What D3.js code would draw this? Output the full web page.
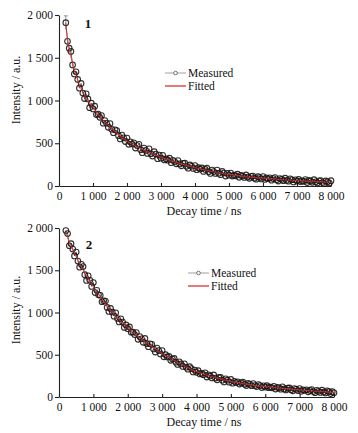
<!DOCTYPE html>
<html>
<head>
<meta charset="utf-8">
<script src="https://cdnjs.cloudflare.com/ajax/libs/d3/7.8.5/d3.min.js"></script>
<style>
  html, body { margin: 0; padding: 0; background: #fff; }
  svg { display: block; font-family: "Liberation Serif", "DejaVu Serif", serif; }
  .axis path, .axis line { stroke: #222; stroke-width: 1.1; }
  .axis text { font-size: 11.5px; fill: #111; font-family: "Liberation Serif", serif; }
</style>
</head>
<body>
<div class="chart"></div>
<script>

// sampling times of the measured curves (ns), shared by both panels
const TIMES = [200, 250, 300, 350, 400, 450, 500, 550, 600, 650, 700, 750, 800, 850, 900, 950,
  1000, 1050, 1100, 1150, 1200, 1250, 1300, 1350, 1400, 1450, 1500, 1550, 1600, 1650, 1700,
  1750, 1800, 1850, 1900, 1950, 2000, 2050, 2100, 2150, 2200, 2250, 2300, 2350, 2400, 2450,
  2500, 2550, 2600, 2650, 2700, 2750, 2800, 2850, 2900, 2950, 3000, 3050, 3100, 3150, 3200,
  3250, 3300, 3350, 3400, 3450, 3500, 3550, 3600, 3650, 3700, 3750, 3800, 3850, 3900, 3950,
  4000, 4050, 4100, 4150, 4200, 4250, 4300, 4350, 4400, 4450, 4500, 4550, 4600, 4650, 4700,
  4750, 4800, 4850, 4900, 4950, 5000, 5050, 5100, 5150, 5200, 5250, 5300, 5350, 5400, 5450,
  5500, 5550, 5600, 5650, 5700, 5750, 5800, 5850, 5900, 5950, 6000, 6050, 6100, 6150, 6200,
  6250, 6300, 6350, 6400, 6450, 6500, 6550, 6600, 6650, 6700, 6750, 6800, 6850, 6900, 6950,
  7000, 7050, 7100, 7150, 7200, 7250, 7300, 7350, 7400, 7450, 7500, 7550, 7600, 7650, 7700,
  7750, 7800, 7850, 7900, 7950, 8000];

// panel 1, measured intensity (a.u.)
const MEASURED_1 = [1910, 1692, 1612, 1574, 1416, 1310, 1336, 1246, 1144, 1200, 1088, 1023,
  1078, 1018, 916, 969, 902, 934, 835, 840,
  803, 824, 734, 766, 734, 686, 730, 664, 623, 657, 648, 589, 550, 596, 563, 520, 561, 487,
  517, 491, 505, 443, 473, 488, 424, 390, 444, 416, 381, 435, 377, 350, 402, 374, 319, 362,
  326, 359, 305, 317,
  302, 325, 272, 301, 286, 259, 298, 258, 236, 266, 267, 230, 208, 247, 231, 206, 240, 190,
  214, 198, 211, 170, 194, 208, 168, 146, 187, 169, 146, 187, 150, 132, 170, 152, 116, 149,
  127, 152, 116, 127,
  119, 138, 102, 125, 117, 100, 130, 104, 90, 114, 116, 92, 79, 109, 99, 83, 110, 76, 95, 85,
  96, 68, 87, 99, 72, 58, 88, 77, 62, 92, 67, 56, 85, 73, 48, 73, 58, 77, 52, 61,
  54, 75, 40, 65, 58, 43, 74, 49, 36, 61, 64, 41, 28, 59, 50, 35, 62];

// panel 2, measured intensity (a.u.)
const MEASURED_2 = [1970, 1934, 1790, 1814, 1751, 1669, 1715, 1609, 1536, 1570, 1544, 1448,
  1380, 1435, 1381, 1309, 1355, 1236, 1262, 1209,
  1204, 1127, 1138, 1136, 1060, 1012, 1048, 1006, 957, 996, 929, 889, 925, 887, 823, 853,
  809, 829, 766, 767, 739, 763, 683, 716, 689, 647, 693, 632, 595, 630, 624, 568, 532, 579,
  550, 509, 549, 475, 501, 474,
  480, 434, 449, 456, 412, 385, 416, 392, 362, 393, 352, 329, 359, 336, 296, 319, 292, 311,
  273, 279, 264, 286, 236, 263, 250, 225, 261, 224, 203, 232, 232, 199, 178, 215, 199, 176,
  208, 163, 186, 171,
  180, 153, 168, 176, 150, 135, 161, 149, 133, 159, 135, 123, 147, 135, 112, 132, 118, 134,
  110, 116, 109, 126, 94, 115, 108, 93, 120, 96, 84, 105, 107, 85, 73, 100, 91, 76, 100, 69,
  86, 77, 86, 61, 78, 88, 64, 51, 79, 68, 54, 81, 58, 48, 74, 63, 41, 63, 50];

// fitted curves, read at fewer times
const FIT_TIMES = [200, 300, 400, 500, 600, 800, 1000, 1250, 1500, 1750, 2000, 2500, 3000,
  3500, 4000, 4500, 5000, 5500, 6000, 6500, 7000, 7500, 8000];
const FITTED_1 = [1880, 1600, 1440, 1300, 1180, 1030, 920, 790, 690, 600, 525, 420, 338,
  270, 215, 170, 135, 110, 92, 76, 64, 54, 44];
const FITTED_2 = [1940, 1840, 1745, 1660, 1580, 1435, 1305, 1160, 1025, 915, 820, 655, 515,
  400, 300, 235, 185, 150, 123, 102, 84, 68, 55];

// error bar on the first measured point of panel 1
const ERR_TIME_1 = [200];
const ERR_HALF_1 = [80];

const X_TICKS = [0, 1000, 2000, 3000, 4000, 5000, 6000, 7000, 8000];
const Y_TICKS = [0, 500, 1000, 1500, 2000];
const SERIES_NAMES = ["Measured", "Fitted"];
const PANEL_NAMES = ["1", "2"];

const WIDTH = 358;
const HEIGHT = 433;
const FIT_COLOR = "#d8322f";
const DOT_COLOR = "#1e1717";

const fmt = d => d >= 1000 ? d3.format(",")(d).replace(",", " ") : String(d);

const svg = d3.select(".chart")
  .append("svg")
  .attr("width", WIDTH)
  .attr("height", HEIGHT);

svg.append("rect").attr("width", WIDTH).attr("height", HEIGHT).attr("fill", "#fff");

// layout of each panel (pixels)
const panels = [
  {
    name: PANEL_NAMES[0], measured: MEASURED_1, fitted: FITTED_1,
    errTimes: ERR_TIME_1, errHalf: ERR_HALF_1,
    x0: 59, x1: 331, yTop: 15, yBot: 186,
    nameXY: [88, 24], legendX: 165, legendY: 73, yTitleY: 90, xTitleX: 204,
  },
  {
    name: PANEL_NAMES[1], measured: MEASURED_2, fitted: FITTED_2,
    errTimes: [], errHalf: [],
    x0: 59, x1: 334, yTop: 228, yBot: 397,
    nameXY: [89, 245], legendX: 188, legendY: 273, yTitleY: 310, xTitleX: 204,
  },
];

panels.forEach(drawPanel);

function drawPanel(p) {
  const g = svg.append("g");

  const xScale = d3.scaleLinear().domain([0, 8000]).range([p.x0, p.x1]);
  const yScale = d3.scaleLinear().domain([0, 2000]).range([p.yBot, p.yTop]);

  // axes
  g.append("g")
    .attr("class", "axis")
    .attr("transform", `translate(0, ${p.yBot})`)
    .call(d3.axisBottom(xScale).tickValues(X_TICKS).tickFormat(fmt)
      .tickSizeInner(-3).tickSizeOuter(0).tickPadding(6));

  g.append("g")
    .attr("class", "axis")
    .attr("transform", `translate(${p.x0}, 0)`)
    .call(d3.axisLeft(yScale).tickValues(Y_TICKS).tickFormat(fmt)
      .tickSizeInner(4).tickSizeOuter(0).tickPadding(2));

  // axis titles
  g.append("text")
    .attr("transform", `translate(16, ${p.yTitleY}) rotate(-90)`)
    .attr("text-anchor", "middle")
    .attr("dominant-baseline", "central")
    .attr("font-size", 12)
    .attr("fill", "#111")
    .text("Intensity / a.u.");

  g.append("text")
    .attr("x", p.xTitleX)
    .attr("y", p.yBot + 29)
    .attr("text-anchor", "middle")
    .attr("font-size", 12)
    .attr("fill", "#111")
    .text("Decay time / ns");

  // panel number
  g.append("text")
    .attr("x", p.nameXY[0])
    .attr("y", p.nameXY[1] + 4)
    .attr("text-anchor", "middle")
    .attr("font-size", 13)
    .attr("font-weight", "bold")
    .attr("fill", "#111")
    .text(p.name);

  const measuredData = TIMES.map((t, i) => ({ t, v: p.measured[i] }));
  const fittedData = FIT_TIMES.map((t, i) => ({ t, v: p.fitted[i] }));

  const line = d3.line().x(d => xScale(d.t)).y(d => yScale(d.v));

  // error bar
  const errData = p.errTimes.map((t, i) => ({
    t, v: p.measured[TIMES.indexOf(t)], e: p.errHalf[i],
  }));
  const err = g.append("g").attr("stroke", "#777").attr("stroke-width", 0.8);
  err.selectAll("line.bar")
    .data(errData)
    .join("line")
    .attr("class", "bar")
    .attr("x1", d => xScale(d.t)).attr("x2", d => xScale(d.t))
    .attr("y1", d => yScale(d.v - d.e)).attr("y2", d => yScale(d.v + d.e));
  err.selectAll("line.cap")
    .data(errData)
    .join("line")
    .attr("class", "cap")
    .attr("x1", d => xScale(d.t) - 2).attr("x2", d => xScale(d.t) + 2)
    .attr("y1", d => yScale(d.v + d.e)).attr("y2", d => yScale(d.v + d.e));

  // measured line
  g.append("path")
    .datum(measuredData)
    .attr("fill", "none")
    .attr("stroke", "#4a4040")
    .attr("stroke-width", 0.8)
    .attr("d", line);

  // measured circles
  g.append("g")
    .selectAll("circle")
    .data(measuredData)
    .join("circle")
    .attr("cx", d => xScale(d.t))
    .attr("cy", d => yScale(d.v))
    .attr("r", 2.8)
    .attr("fill", "none")
    .attr("stroke", DOT_COLOR)
    .attr("stroke-opacity", 0.9)
    .attr("stroke-width", 1.1);

  // fitted line
  g.append("path")
    .datum(fittedData)
    .attr("fill", "none")
    .attr("stroke", FIT_COLOR)
    .attr("stroke-opacity", 0.7)
    .attr("stroke-width", 1.2)
    .attr("d", line.curve(d3.curveMonotoneX));

  // legend
  const lg = g.append("g").attr("transform", `translate(${p.legendX}, ${p.legendY})`);
  lg.append("line")
    .attr("x1", 0).attr("x2", 21).attr("y1", 0).attr("y2", 0)
    .attr("stroke", "#888").attr("stroke-width", 0.8);
  lg.append("circle")
    .attr("cx", 10.5).attr("cy", 0).attr("r", 1.8)
    .attr("fill", "#fff").attr("stroke", "#555").attr("stroke-width", 0.8);
  lg.append("line")
    .attr("x1", 0).attr("x2", 21).attr("y1", 13).attr("y2", 13)
    .attr("stroke", FIT_COLOR).attr("stroke-width", 1.3);
  lg.selectAll("text")
    .data(SERIES_NAMES)
    .join("text")
    .attr("x", 23)
    .attr("y", (d, i) => i * 13 + 4)
    .attr("font-size", 11.5)
    .attr("fill", "#111")
    .text(d => d);
}
</script>
</body>
</html>
